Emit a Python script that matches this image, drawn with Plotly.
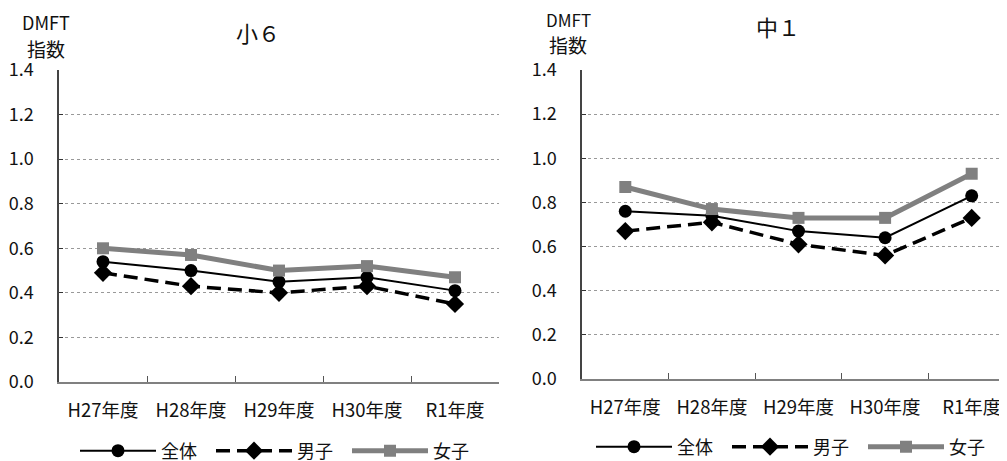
import plotly.graph_objects as go

categories = ["H27年度", "H28年度", "H29年度", "H30年度", "R1年度"]
series_names = ["全体", "男子", "女子"]

# 小6
sho6_all = [0.54, 0.50, 0.45, 0.47, 0.41]
sho6_boys = [0.49, 0.43, 0.40, 0.43, 0.35]
sho6_girls = [0.60, 0.57, 0.50, 0.52, 0.47]

# 中1
chu1_all = [0.76, 0.74, 0.67, 0.64, 0.83]
chu1_boys = [0.67, 0.71, 0.61, 0.56, 0.73]
chu1_girls = [0.87, 0.77, 0.73, 0.73, 0.93]

y_ticks = [0.0, 0.2, 0.4, 0.6, 0.8, 1.0, 1.2, 1.4]

FONT = "Noto Sans CJK JP"
W, H = 1007, 475
OFF = 8  # page body margin

styles = [
    dict(line=dict(color="#000000", width=2), marker=dict(symbol="circle", size=13, color="#000000")),
    dict(line=dict(color="#000000", width=3.5, dash="14px,7px"), marker=dict(symbol="diamond", size=14, color="#000000")),
    dict(line=dict(color="#808080", width=5), marker=dict(symbol="square", size=12, color="#808080")),
]

fig = go.Figure()

panels = [
    ("x", "y", "legend", [sho6_all, sho6_boys, sho6_girls]),
    ("x2", "y2", "legend2", [chu1_all, chu1_boys, chu1_girls]),
]
for xa, ya, lg, data in panels:
    for name, vals, st in zip(series_names, data, styles):
        fig.add_trace(go.Scatter(
            x=categories, y=vals, name=name, mode="lines+markers",
            xaxis=xa, yaxis=ya, legend=lg, line=st["line"], marker=st["marker"],
            cliponaxis=False,
        ))

def px_x(p):
    return (p - OFF) / W

def px_y(p):
    return (H - (p - OFF)) / H

xcommon = dict(
    type="category", showline=True, linecolor="#808080", linewidth=2,
    ticks="inside", ticklen=6, tickcolor="#555", tickson="boundaries",
    showgrid=False, tickfont=dict(size=18.5, color="#111", family=FONT),
    ticklabelstandoff=11, zeroline=False, tickangle=0, automargin=False,
    range=[-0.5, 4.5],
)
ycommon = dict(
    range=[0, 1.4], tickvals=y_ticks, tickformat=".1f",
    showline=True, linecolor="#444", linewidth=1.5,
    ticks="inside", ticklen=4, tickcolor="#333",
    showgrid=True, gridcolor="#999", griddash="dot", gridwidth=1,
    tickfont=dict(size=18, color="#111", family=FONT), zeroline=False,
    ticklabelstandoff=20, automargin=False,
)

legend_common = dict(orientation="h", xanchor="left", yanchor="middle",
                     font=dict(size=18, family=FONT, color="#111"),
                     itemwidth=76, entrywidth=45, bgcolor="rgba(0,0,0,0)",
                     borderwidth=0, tracegroupgap=0)

fig.update_layout(
    width=W, height=H,
    margin=dict(l=0, r=0, t=0, b=0, pad=0),
    paper_bgcolor="white", plot_bgcolor="white",
    font=dict(family=FONT, color="#111"),
    xaxis=dict(domain=[px_x(59), px_x(499)], anchor="y", **xcommon),
    yaxis=dict(domain=[px_y(382), px_y(70)], anchor="x", **ycommon),
    xaxis2=dict(domain=[px_x(582), 1.0], anchor="y2", **xcommon),
    yaxis2=dict(domain=[px_y(379), px_y(70)], anchor="x2", **ycommon),
    legend=dict(x=px_x(75), y=px_y(451), **legend_common),
    legend2=dict(x=px_x(591), y=px_y(447), **legend_common),
    showlegend=True,
)

annos = [
    dict(text="小６", x=px_x(258), y=px_y(32), size=22),
    dict(text="中１", x=px_x(778), y=px_y(26), size=22),
    dict(text="DMFT", x=px_x(46), y=px_y(22), size=18),
    dict(text="指数", x=px_x(46), y=px_y(48), size=19),
    dict(text="DMFT", x=px_x(568), y=px_y(19), size=17),
    dict(text="指数", x=px_x(568), y=px_y(45), size=19),
]
for a in annos:
    fig.add_annotation(text=a["text"], x=a["x"], y=a["y"], xref="paper", yref="paper",
                       xanchor="center", yanchor="middle", showarrow=False,
                       font=dict(size=a["size"], family=FONT, color="#111"))

fig.write_html("out.html")
